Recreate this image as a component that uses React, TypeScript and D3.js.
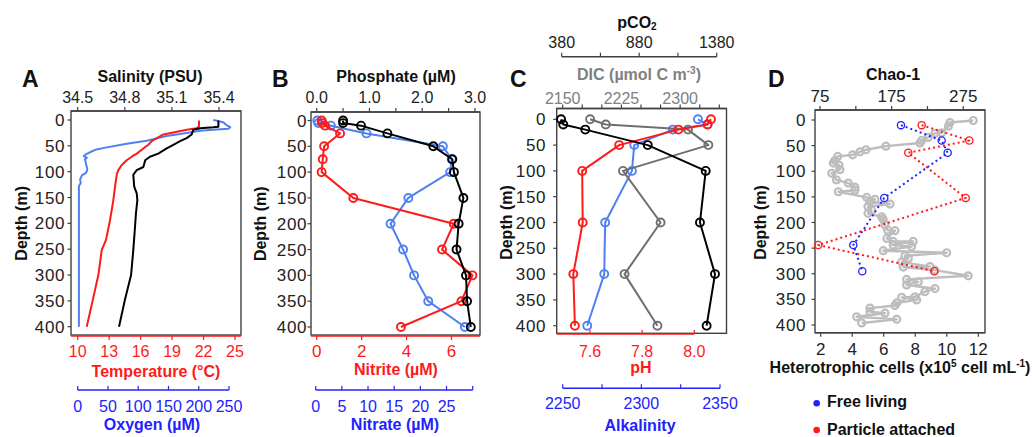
import React from "react";
import * as d3 from "d3";

// ---------------- Panel A (CTD profiles) ----------------
const oxyDepth = [0, 2, 5, 10, 14, 17, 19, 21, 25, 31, 40, 46, 53, 57, 61, 66, 70, 73, 76, 86, 96, 102, 107, 115, 122, 128, 200, 300, 400];
const oxygen = [224, 232, 241, 246, 252, 249, 224, 202, 180, 147, 114, 81, 48, 31, 23, 14, 10, 15, 12, 14, 16, 14, 7, 4, 5, 2, 2, 2, 2];
const tempDepth = [1, 12, 16, 19, 24, 28, 35, 41, 48, 55, 65, 71, 78, 87, 97, 106, 129, 155, 194, 232, 252, 300, 349, 400];
const temperature = [21.57, 21.57, 21.35, 20.4, 19.12, 18.17, 17.54, 17.06, 16.74, 16.26, 15.63, 15.15, 14.67, 14.2, 13.87, 13.72, 13.56, 13.4, 13.08, 12.7, 12.29, 11.97, 11.43, 10.86];
const salDepth = [1, 13, 14, 16, 19, 28, 35, 41, 48, 55, 65, 71, 78, 91, 97, 106, 129, 142, 155, 181, 207, 232, 252, 300, 349, 400];
const salinity = [35.396, 35.396, 35.364, 35.28, 35.236, 35.226, 35.194, 35.152, 35.109, 35.067, 35.013, 34.96, 34.93, 34.918, 34.876, 34.854, 34.86, 34.876, 34.88, 34.871, 34.865, 34.859, 34.854, 34.84, 34.8, 34.763];

// ---------------- Panel B (nutrients) ----------------
const nutDepth = [0, 5, 10, 25, 50, 75, 100, 150, 200, 250, 300, 350, 400];
const phosphate = [0.5, 0.5, 0.84, 1.34, 2.21, 2.57, 2.6, 2.78, 2.69, 2.65, 2.83, 2.85, 2.92];
const nitrite = [0.22, 0.25, 0.37, 1.04, 0.33, 0.27, 0.22, 1.63, 6.1, 5.58, 6.93, 6.44, 3.75];
const nitrate = [0.3, 0.5, 2.9, 9.7, 24.3, 26.0, 25.7, 17.7, 14.3, 16.7, 18.8, 21.5, 28.5];

// ---------------- Panel C (carbonate system) ----------------
const carbDepth = [0, 10, 20, 50, 100, 200, 300, 400];
const pco2 = [376, 390, 532, 935, 1309, 1272, 1369, 1315];
const dic = [2185, 2205, 2310, 2336, 2227, 2275, 2229, 2271];
const ph = [8.064, 8.051, 7.939, 7.712, 7.57, 7.572, 7.536, 7.542];
const alkalinity = [2336, 2342, 2320, 2295.5, 2294, 2277, 2276.4, 2265.6];

// ---------------- Panel D (cells & richness) ----------------
const cellDepth = [1, 5, 12, 25, 26, 34, 40, 45, 51, 58, 62, 68, 71, 79, 84, 88, 97, 104, 117, 123, 131, 137, 140, 151, 155, 159, 164, 169, 176, 182, 189, 194, 205, 215, 216, 231, 237, 237, 244, 247, 255, 259, 265, 270, 277, 286, 287, 293, 304, 311, 316, 322, 329, 335, 345, 346, 351, 357, 362, 367, 374, 377, 384, 389, 396];
const cells = [11.68, 10.2, 10.1, 9.67, 9.25, 8.82, 8.4, 8.3, 6.14, 4.87, 4.5, 4.03, 3.08, 2.9, 2.8, 3.16, 3.22, 2.7, 3.0, 3.75, 4.17, 4.17, 3.12, 4.92, 5.44, 5.13, 6.4, 5.0, 5.23, 5.0, 5.87, 5.97, 6.08, 6.25, 6.71, 6.2, 6.6, 7.87, 6.6, 7.77, 5.97, 9.99, 7.35, 7.56, 7.14, 8.93, 7.24, 9.25, 11.36, 7.45, 8.19, 7.45, 9.25, 8.61, 7.98, 7.14, 8.09, 6.82, 6.71, 5.13, 5.13, 6.08, 4.28, 6.82, 4.6];
const chaoDepth = [10, 40, 64, 152, 244, 295];
const chaoFree = [188, 244.8, 253.2, 164.7, 121.5, 134];
const chaoParticle = [216.9, 283.4, 198.2, 278.3, 72.6, 234.5];

// ---------------- Tick values ----------------
const depthTicks = [0, 50, 100, 150, 200, 250, 300, 350, 400];
const salTicks = [34.5, 34.8, 35.1, 35.4];
const tempTicks = [10, 13, 16, 19, 22, 25];
const oxyTicks = [0, 50, 100, 150, 200, 250];
const phosTicks = [0, 0.5, 1, 1.5, 2, 2.5, 3];
const phosLabels = [0, 1, 2, 3];
const nitriteTicks = [0, 2, 4, 6];
const nitrateTicks = [0, 5, 10, 15, 20, 25, 30];
const nitrateLabels = [0, 5, 10, 15, 20, 25];
const pco2Ticks = [380, 630, 880, 1130, 1380];
const pco2Labels = [380, 880, 1380];
const dicTicks = [2150, 2175, 2200, 2225, 2250, 2275, 2300, 2325, 2350];
const dicLabels = [2150, 2225, 2300];
const phTicks = [7.6, 7.8, 8.0];
const alkTicks = [2250, 2275, 2300, 2325, 2350];
const alkLabels = [2250, 2300, 2350];
const chaoTicks = [75, 125, 175, 225, 275];
const chaoLabels = [75, 175, 275];
const cellTicks = [2, 4, 6, 8, 10, 12];

// ---------------- Styling ----------------
const FONT = "'Liberation Sans', Arial, Helvetica, sans-serif";
const RED = "#ff1a1a";
const BLUE_AX = "#2222ff";
const BLUE_LN = "#4f80f2";
const GRAY = "#6f6f6f";
const GRAY_AX = "#808080";
const LGRAY = "#bdbdbd";
const FRAME = "#404040";
const TXT = "#222";

type Panel = { x0: number; x1: number; y0: number; y1: number; d0: number; d1: number; lblX: number; titleX: number };
const PA: Panel = { x0: 71, x1: 241, y0: 111, y1: 335, d0: 120, d1: 326.7, lblX: 65, titleX: 26.5 };
const PB: Panel = { x0: 311, x1: 480, y0: 112, y1: 335, d0: 120.5, d1: 327, lblX: 307, titleX: 266 };
const PC: Panel = { x0: 556.7, x1: 726.5, y0: 108.5, y1: 333.3, d0: 119.3, d1: 325.7, lblX: 546, titleX: 511.5 };
const PD: Panel = { x0: 815, x1: 985, y0: 110, y1: 332.7, d0: 120, d1: 325, lblX: 806, titleX: 766 };

const depthScale = (p: Panel) => d3.scaleLinear().domain([0, 400]).range([p.d0, p.d1]);

function HAxis(props: {
  scale: (v: number) => number; y: number; ticks: number[]; labels: number[]; fmt?: (v: number) => string;
  color: string; lineColor?: string; dir: number; from?: number; to?: number; labelY: number; fontSize?: number;
}) {
  const { scale, y, ticks, labels, fmt, color, dir, labelY } = props;
  const lc = props.lineColor ?? color;
  const from = props.from ?? scale(ticks[0]);
  const to = props.to ?? scale(ticks[ticks.length - 1]);
  return (
    <g>
      <line x1={from} x2={to} y1={y} y2={y} stroke={lc} strokeWidth={1.4} />
      {ticks.map((t) => (
        <line key={"t" + t} x1={scale(t)} x2={scale(t)} y1={y} y2={y + dir * 4} stroke={lc} strokeWidth={1.2} />
      ))}
      {labels.map((t) => (
        <text key={"l" + t} x={scale(t)} y={labelY} textAnchor="middle" fill={color} fontSize={props.fontSize ?? 16}>
          {fmt ? fmt(t) : String(t)}
        </text>
      ))}
    </g>
  );
}

function Frame({ p }: { p: Panel }) {
  const ys = depthScale(p);
  const mid = (p.d0 + p.d1) / 2;
  return (
    <g>
      <rect x={p.x0} y={p.y0} width={p.x1 - p.x0} height={p.y1 - p.y0} fill="none" stroke={FRAME} strokeWidth={1.4} />
      {depthTicks.map((d) => (
        <g key={d}>
          <line x1={p.x0 - 3.5} x2={p.x0} y1={ys(d)} y2={ys(d)} stroke={FRAME} strokeWidth={1.2} />
          <text x={p.lblX} y={ys(d)} dy="0.36em" textAnchor="end" fill={TXT} fontSize={17} letterSpacing={0.6}>{d}</text>
        </g>
      ))}
      <text transform={`translate(${p.titleX},${mid}) rotate(-90)`} textAnchor="middle" fontWeight="bold" fontSize={16} fill="#111">
        Depth (m)
      </text>
    </g>
  );
}

function Series(props: { xs: number[]; ds: number[]; x: (v: number) => number; y: (v: number) => number; color: string; marker?: boolean; r?: number; dash?: string; lineW?: number; markerW?: number }) {
  const pts: [number, number][] = props.xs.map((v, i) => [props.x(v), props.y(props.ds[i])]);
  const path = d3.line()(pts) || "";
  return (
    <g>
      <path d={path} fill="none" stroke={props.color} strokeWidth={props.lineW ?? 2} strokeDasharray={props.dash} strokeLinejoin="round" />
      {props.marker && pts.map((p, i) => (
        <circle key={i} cx={p[0]} cy={p[1]} r={props.r ?? 4} fill="none" stroke={props.color} strokeWidth={props.markerW ?? 1.9} />
      ))}
    </g>
  );
}

const Bold = (p: { x: number; y: number; fill?: string; size?: number; children: React.ReactNode; anchor?: string }) => (
  <text x={p.x} y={p.y} textAnchor={(p.anchor ?? "middle") as any} fontWeight="bold" fontSize={p.size ?? 16} fill={p.fill ?? "#111"}>
    {p.children}
  </text>
);

export default function App() {
  // Panel A scales
  const yA = depthScale(PA);
  const salX = d3.scaleLinear().domain([34.5, 35.4]).range([77.7, 219]);
  const tempX = d3.scaleLinear().domain([10, 25]).range([77.7, 235]);
  const oxyX = d3.scaleLinear().domain([0, 250]).range([77.7, 229]);
  // Panel B
  const yB = depthScale(PB);
  const phosX = d3.scaleLinear().domain([0, 3]).range([316.7, 475]);
  const nitriteX = d3.scaleLinear().domain([0, 6]).range([316.7, 451.5]);
  const nitrateX = d3.scaleLinear().domain([0, 30]).range([315.7, 472.7]);
  // Panel C
  const yC = depthScale(PC);
  const pco2X = d3.scaleLinear().domain([380, 1380]).range([561.7, 716.7]);
  const dicX = d3.scaleLinear().domain([2150, 2350]).range([562.7, 719.3]);
  const phX = d3.scaleLinear().domain([7.6, 8.0]).range([590, 694.3]);
  const alkX = d3.scaleLinear().domain([2250, 2350]).range([562.7, 720]);
  // Panel D
  const yD = depthScale(PD);
  const chaoX = d3.scaleLinear().domain([75, 275]).range([820, 963.3]);
  const cellX = d3.scaleLinear().domain([2, 12]).range([820.7, 978.3]);

  const f1 = (v: number) => v.toFixed(1);

  return (
    <svg width={1032} height={437} style={{ position: "absolute", left: 0, top: 0, background: "#fff" }} fontFamily={FONT}>
      <rect x={0} y={0} width={1032} height={437} fill="#fff" />

      {/* ===== Panel A ===== */}
      <Frame p={PA} />
      <Series xs={oxygen} ds={oxyDepth} x={oxyX} y={yA} color={BLUE_LN} />
      <Series xs={temperature} ds={tempDepth} x={tempX} y={yA} color={RED} />
      <Series xs={salinity} ds={salDepth} x={salX} y={yA} color="#000" />
      <HAxis scale={salX} y={PA.y0} ticks={salTicks} labels={salTicks} fmt={f1} color={TXT} lineColor={FRAME} dir={-1} from={PA.x0} to={PA.x1} labelY={103} />
      <HAxis scale={tempX} y={PA.y1 + 1} ticks={tempTicks} labels={tempTicks} color={RED} dir={1} from={PA.x0} to={PA.x1} labelY={357} />
      <HAxis scale={oxyX} y={390} ticks={oxyTicks} labels={oxyTicks} color={BLUE_AX} dir={-1} labelY={411.5} />
      <Bold x={22} y={87} size={23} anchor="start">A</Bold>
      <Bold x={150} y={82}>Salinity (PSU)</Bold>
      <Bold x={156} y={377} fill={RED}>Temperature (°C)</Bold>
      <Bold x={152} y={430} fill={BLUE_AX}>Oxygen (µM)</Bold>

      {/* ===== Panel B ===== */}
      <Frame p={PB} />
      <Series xs={nitrate} ds={nutDepth} x={nitrateX} y={yB} color={BLUE_LN} marker />
      <Series xs={nitrite} ds={nutDepth} x={nitriteX} y={yB} color={RED} marker />
      <Series xs={phosphate} ds={nutDepth} x={phosX} y={yB} color="#000" marker />
      <HAxis scale={phosX} y={PB.y0} ticks={phosTicks} labels={phosLabels} fmt={f1} color={TXT} lineColor={FRAME} dir={-1} from={PB.x0} to={PB.x1} labelY={103} />
      <HAxis scale={nitriteX} y={PB.y1 + 1} ticks={nitriteTicks} labels={nitriteTicks} color={RED} dir={1} from={PB.x0} to={PB.x1} labelY={357} fontSize={17} />
      <HAxis scale={nitrateX} y={390} ticks={nitrateTicks} labels={nitrateLabels} color={BLUE_AX} dir={-1} labelY={412} />
      <Bold x={272} y={87} size={23} anchor="start">B</Bold>
      <Bold x={396} y={82}>Phosphate (µM)</Bold>
      <Bold x={396} y={375} fill={RED}>Nitrite (µM)</Bold>
      <Bold x={395} y={430} fill={BLUE_AX}>Nitrate (µM)</Bold>

      {/* ===== Panel C ===== */}
      <Frame p={PC} />
      <Series xs={alkalinity} ds={carbDepth} x={alkX} y={yC} color={BLUE_LN} marker />
      <Series xs={dic} ds={carbDepth} x={dicX} y={yC} color={GRAY} marker />
      <Series xs={ph} ds={carbDepth} x={phX} y={yC} color={RED} marker />
      <Series xs={pco2} ds={carbDepth} x={pco2X} y={yC} color="#000" marker />
      <HAxis scale={dicX} y={PC.y0} ticks={dicTicks} labels={dicLabels} color={GRAY_AX} lineColor={FRAME} dir={-1} from={PC.x0} to={PC.x1} labelY={104} />
      <HAxis scale={pco2X} y={56.7} ticks={pco2Ticks} labels={pco2Labels} color={TXT} lineColor={FRAME} dir={-1} labelY={48} />
      <HAxis scale={phX} y={PC.y1 + 0.8} ticks={phTicks} labels={phTicks} fmt={f1} color={RED} dir={-1} from={PC.x0} to={phX(8.0)} labelY={356.7} />
      <HAxis scale={alkX} y={388.3} ticks={alkTicks} labels={alkLabels} color={BLUE_AX} dir={-1} labelY={409.3} />
      <Bold x={510} y={87} size={23} anchor="start">C</Bold>
      <text x={637} y={28} textAnchor="middle" fontWeight="bold" fontSize={16} fill="#111">
        pCO<tspan fontSize={10} dy={2}>2</tspan>
      </text>
      <text x={639} y={80} textAnchor="middle" fontWeight="bold" fontSize={16} fill={GRAY_AX}>
        DIC (µmol C m<tspan fontSize={10} dy={-6}>-3</tspan><tspan dy={6}>)</tspan>
      </text>
      <Bold x={641} y={373} fill={RED}>pH</Bold>
      <Bold x={640} y={430.5} fill={BLUE_AX}>Alkalinity</Bold>

      {/* ===== Panel D ===== */}
      <Frame p={PD} />
      <Series xs={cells} ds={cellDepth} x={cellX} y={yD} color={LGRAY} marker r={3.5} lineW={2.4} markerW={2.2} />
      <Series xs={chaoFree} ds={chaoDepth} x={chaoX} y={yD} color={BLUE_AX} marker r={3.6} lineW={2} markerW={1.3} dash="2 3" />
      <Series xs={chaoParticle} ds={chaoDepth} x={chaoX} y={yD} color={RED} marker r={3.6} lineW={2} markerW={1.3} dash="2 3" />
      <HAxis scale={chaoX} y={PD.y0} ticks={chaoTicks} labels={chaoLabels} color={TXT} lineColor={FRAME} dir={-1} from={PD.x0} to={PD.x1} labelY={101.7} fontSize={17} />
      <HAxis scale={cellX} y={PD.y1} ticks={cellTicks} labels={cellTicks} color={TXT} lineColor={FRAME} dir={1} from={PD.x0} to={PD.x1} labelY={355} fontSize={17} />
      <Bold x={768} y={87} size={23} anchor="start">D</Bold>
      <Bold x={893} y={80}>Chao-1</Bold>
      <text x={900} y={373.3} textAnchor="middle" fontWeight="bold" fontSize={16} fill="#111">
        Heterotrophic cells (x10<tspan fontSize={10} dy={-6}>5</tspan><tspan dy={6}> cell mL</tspan><tspan fontSize={10} dy={-6}>-1</tspan><tspan dy={6}>)</tspan>
      </text>
      <circle cx={816.7} cy={403.3} r={3.3} fill={BLUE_AX} />
      <Bold x={827} y={406.7} anchor="start">Free living</Bold>
      <circle cx={816.7} cy={430} r={3.3} fill={RED} />
      <Bold x={827} y={435} anchor="start">Particle attached</Bold>
    </svg>
  );
}
